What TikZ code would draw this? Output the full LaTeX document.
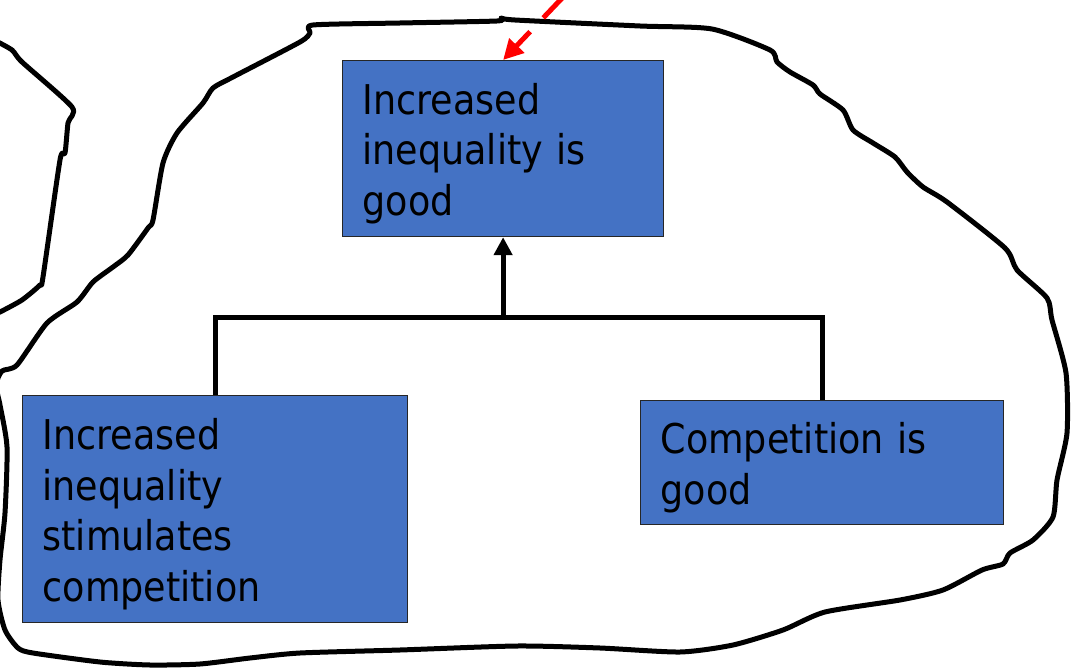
\documentclass[tikz,border=0pt]{standalone}
\usepackage{fontspec}
\setmainfont{DejaVu Sans}[FakeStretch=0.89]
\usetikzlibrary{arrows.meta}
\definecolor{boxblue}{HTML}{4472C4}
\newcommand\capstrut{\rule{0pt}{41pt}}
\begin{document}
\begin{tikzpicture}[x=1pt, y=-1pt,
  claim/.style={draw=black!85, line width=1.2pt, fill=boxblue, anchor=north west,
    align=left, inner xsep=20pt, inner ysep=0pt, font=\fontsize{41}{50.5}\selectfont},
  link/.style={line width=5pt},
  outline/.style={line width=5pt, line join=round, line cap=round},
  hint/.style={red, line width=5pt, dash pattern=on 33pt off 19pt,
    -{Triangle[length=20pt,width=20pt]}}]
\useasboundingbox (0,0) rectangle (1076,671);
% hand-drawn outlines
\draw[outline] plot[smooth cycle, tension=0.4] coordinates {(313,25) (400,23) (497,21) (501,18) (515,20) (640,26) (712,29) (770,50) (777,62) (790,72) (813,85) (820,94) (843,110) (853,130) (873,143) (895,157) (907,172) (923,187) (947,202) (1005,248) (1017,270) (1047,298) (1052,320) (1066,373) (1067,433) (1057,480) (1053,517) (1033,540) (1010,553) (1003,564) (982,570) (943,590) (900,600) (825,612) (783,630) (733,645) (680,652) (600,648) (517,646) (400,650) (300,653) (250,658) (200,664) (150,665) (100,662) (33,653) (18,648) (5,630) (-2,600) (0,560) (5,513) (7,447) (0,405) (-4,385) (2,371) (17,365) (47,323) (77,302) (93,282) (113,267) (128,255) (148,228) (153,220) (163,163) (177,133) (203,103) (213,88) (233,77) (300,42) (310,33)};
\draw[outline] plot[smooth, tension=0.4] coordinates {(-6,40) (12,50) (22,62) (72,107) (68,123) (65,153) (60,160) (43,277) (40,285) (22,300) (0,312) (-6,314)};
% claims
\node[claim, text width=281pt, minimum height=176pt] (B_0_0) at (342,60) {\capstrut Increased\\inequality is\\good};
\node[claim, text width=345pt, minimum height=227pt] (B_1_0) at (22,395) {\capstrut Increased\\inequality\\stimulates\\competition};
\node[claim, text width=323pt, minimum height=124pt] (B_1_1) at (640,400) {\capstrut Competition is\\good};
\coordinate (J) at (B_0_0.south |- 0,317);
\draw[link] (B_1_0.north) |- (J) -| (B_1_1.north);
\draw[link, -{Triangle[length=18pt,width=18pt]}] (J) -- (B_0_0.south);
% red pointer
\coordinate (S) at (566,-6);
\draw[hint] (S) -- (B_0_0.north);
\end{tikzpicture}
\end{document}
